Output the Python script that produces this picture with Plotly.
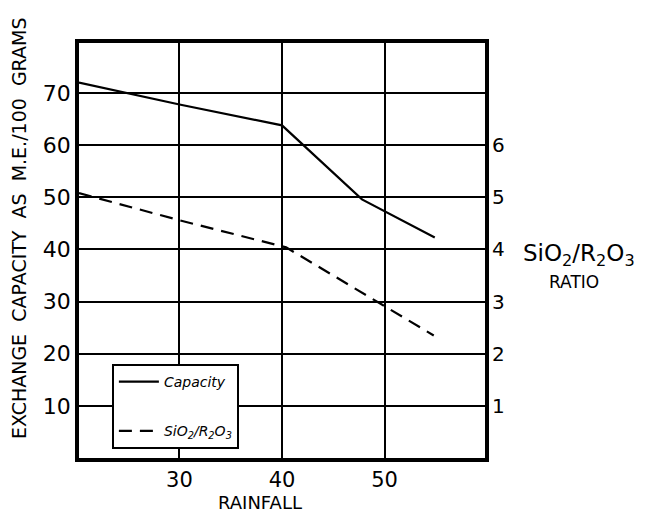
import plotly.graph_objects as go

# Data
rainfall_capacity = [20.2, 30, 40, 47.8, 54.9]
capacity = [72.0, 67.8, 63.8, 49.6, 42.3]

rainfall_ratio = [20.2, 30, 40.4, 49.8, 54.8]
ratio = [5.08, 4.56, 4.04, 2.94, 2.35]

x_ticks = [30, 40, 50]
y_ticks = [10, 20, 30, 40, 50, 60, 70]
ratio_ticks = [1, 2, 3, 4, 5, 6]

FONT = "DejaVu Sans"

fig = go.Figure()
fig.add_trace(go.Scatter(
    x=rainfall_capacity, y=capacity, mode="lines",
    name="<i>Capacity</i>", legendgroup="a",
    line=dict(color="black", width=2.2),
))
fig.add_trace(go.Scatter(
    x=rainfall_ratio, y=ratio, mode="lines", yaxis="y2",
    name="<i>SiO<sub>2</sub>/R<sub>2</sub>O<sub>3</sub></i>", legendgroup="b",
    line=dict(color="black", width=2.2, dash="13px,8px"),
))

fig.update_layout(
    width=648, height=513,
    margin=dict(l=79, r=163, t=43, b=55),
    paper_bgcolor="white", plot_bgcolor="white",
    font=dict(family=FONT, color="black"),
    showlegend=True,
    legend=dict(
        x=0.081, y=0.2265, xanchor="left", yanchor="top",
        bgcolor="white", bordercolor="black", borderwidth=2,
        font=dict(size=14, family=FONT),
        tracegroupgap=28,
        itemwidth=40,
    ),
    xaxis=dict(
        range=[20.2, 59.8], tickvals=x_ticks,
        showgrid=True, gridcolor="black", gridwidth=1.5,
        showline=True, linecolor="black", linewidth=3.5, mirror=True,
        ticks="", tickfont=dict(size=21, family=FONT),
        zeroline=False,
    ),
    yaxis=dict(
        range=[0, 79.6], tickvals=y_ticks,
        showgrid=True, gridcolor="black", gridwidth=1.5,
        showline=True, linecolor="black", linewidth=3.5, mirror=True,
        ticks="", tickfont=dict(size=22, family=FONT),
        zeroline=False,
    ),
    yaxis2=dict(
        overlaying="y", side="right",
        range=[0, 7.96], tickvals=ratio_ticks,
        showgrid=False, showline=False, zeroline=False,
        ticks="", tickfont=dict(size=20, family=FONT),
        ticklabelstandoff=6,
    ),
    annotations=[
        dict(text="EXCHANGE  CAPACITY  AS  M.E./100  GRAMS", textangle=-90,
             xref="paper", yref="paper", x=-0.148, y=0.554,
             xanchor="center", yanchor="middle", showarrow=False,
             font=dict(size=19, family=FONT)),
        dict(text="RAINFALL", xref="paper", yref="paper",
             x=0.446, y=-0.108, xanchor="center", yanchor="middle",
             showarrow=False, font=dict(size=18, family=FONT)),
        dict(text="SiO<sub>2</sub>/R<sub>2</sub>O<sub>3</sub>", xref="paper", yref="paper",
             x=1.088, y=0.49, xanchor="left", yanchor="middle",
             showarrow=False, font=dict(size=23, family=FONT)),
        dict(text="RATIO", xref="paper", yref="paper",
             x=1.219, y=0.424, xanchor="center", yanchor="middle",
             showarrow=False, font=dict(size=17, family=FONT)),
    ],
)

fig.write_html("out.html", config={"displayModeBar": False},
               post_script="document.body.style.margin='0';")
